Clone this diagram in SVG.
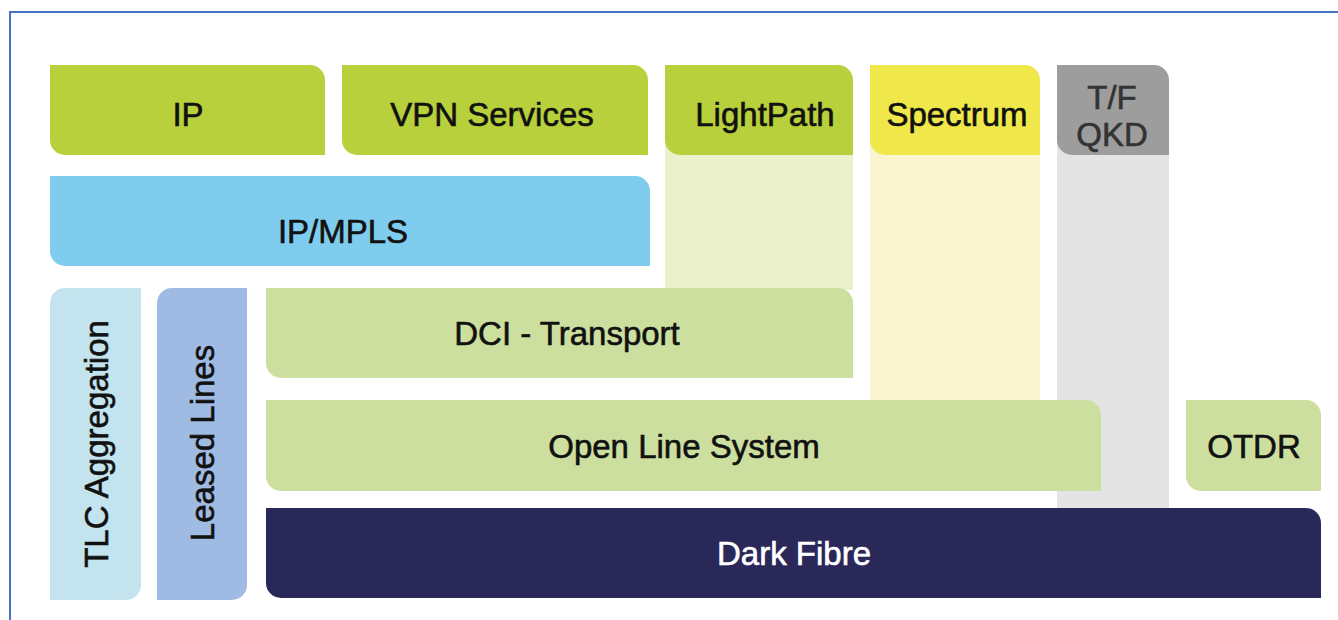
<svg xmlns="http://www.w3.org/2000/svg" width="1338" height="620" viewBox="0 0 1338 620">
<style>
  .lbl { font-family: "Liberation Sans", Arial, sans-serif; font-size: 33px; fill: #111; stroke: #111; stroke-width: 0.6; text-anchor: middle; dominant-baseline: central; }
  .green { fill: #B8D03B; }
  .pale { fill: #CDDF9F; }
  .col { stroke: none; }
</style>
<rect width="1338" height="620" fill="#FFFFFF"/>
<path d="M10,620 V12 H1338" fill="none" stroke="#4472C4" stroke-width="2"/>

<g id="columns">
  <rect class="col" x="665" y="140" width="188" height="150" fill="#EBF0CD"/>
  <rect class="col" x="870" y="140" width="170" height="262" fill="#F9F6CF"/>
  <rect class="col" x="1057" y="140" width="112" height="370" fill="#E4E4E4"/>
</g>

<g id="ip">
  <path class="green" d="M50,65 H310 A15,15 0 0 1 325,80 V155 H65 A15,15 0 0 1 50,140 Z"/>
  <text class="lbl" x="188" y="114">IP</text>
</g>
<g id="vpn">
  <path class="green" d="M342,65 H633 A15,15 0 0 1 648,80 V155 H357 A15,15 0 0 1 342,140 Z"/>
  <text class="lbl" x="492" y="114">VPN Services</text>
</g>
<g id="lightpath">
  <path class="green" d="M665,65 H838 A15,15 0 0 1 853,80 V155 H680 A15,15 0 0 1 665,140 Z"/>
  <text class="lbl" x="765" y="114">LightPath</text>
</g>
<g id="spectrum">
  <path fill="#F0E84A" d="M870,65 H1025 A15,15 0 0 1 1040,80 V155 H885 A15,15 0 0 1 870,140 Z"/>
  <text class="lbl" x="957" y="114">Spectrum</text>
</g>
<g id="tfqkd">
  <path fill="#9D9D9D" d="M1057,65 H1154 A15,15 0 0 1 1169,80 V155 H1072 A15,15 0 0 1 1057,140 Z"/>
  <text class="lbl" x="1112" y="97" style="fill:#333;stroke:#333">T/F</text>
  <text class="lbl" x="1112" y="134" style="fill:#333;stroke:#333">QKD</text>
</g>
<g id="ipmpls">
  <path fill="#7FCDEE" d="M50,176 H635 A15,15 0 0 1 650,191 V266 H65 A15,15 0 0 1 50,251 Z"/>
  <text class="lbl" x="343" y="231">IP/MPLS</text>
</g>
<g id="tlc">
  <path fill="#C3E4EF" d="M65,288 H141 V585 A15,15 0 0 1 126,600 H50 V303 A15,15 0 0 1 65,288 Z"/>
  <text class="lbl" transform="translate(96,444) rotate(-90)" x="0" y="0">TLC Aggregation</text>
</g>
<g id="leased">
  <path fill="#A0BBE3" d="M172,288 H247 V585 A15,15 0 0 1 232,600 H157 V303 A15,15 0 0 1 172,288 Z"/>
  <text class="lbl" transform="translate(202,443) rotate(-90)" x="0" y="0">Leased Lines</text>
</g>
<g id="dci">
  <path class="pale" d="M266,288 H838 A15,15 0 0 1 853,303 V378 H281 A15,15 0 0 1 266,363 Z"/>
  <text class="lbl" x="567" y="333">DCI - Transport</text>
</g>
<g id="ols">
  <path class="pale" d="M266,400 H1086 A15,15 0 0 1 1101,415 V491 H281 A15,15 0 0 1 266,476 Z"/>
  <text class="lbl" x="684" y="446">Open Line System</text>
</g>
<g id="otdr">
  <path class="pale" d="M1186,400 H1306 A15,15 0 0 1 1321,415 V491 H1201 A15,15 0 0 1 1186,476 Z"/>
  <text class="lbl" x="1254" y="446">OTDR</text>
</g>
<g id="darkfibre">
  <path fill="#2A2759" d="M266,508 H1306 A15,15 0 0 1 1321,523 V598 H281 A15,15 0 0 1 266,583 Z"/>
  <text class="lbl" x="794" y="553" style="fill:#FFFFFF;stroke:#FFFFFF">Dark Fibre</text>
</g>
<g id="connectors"></g>
</svg>
